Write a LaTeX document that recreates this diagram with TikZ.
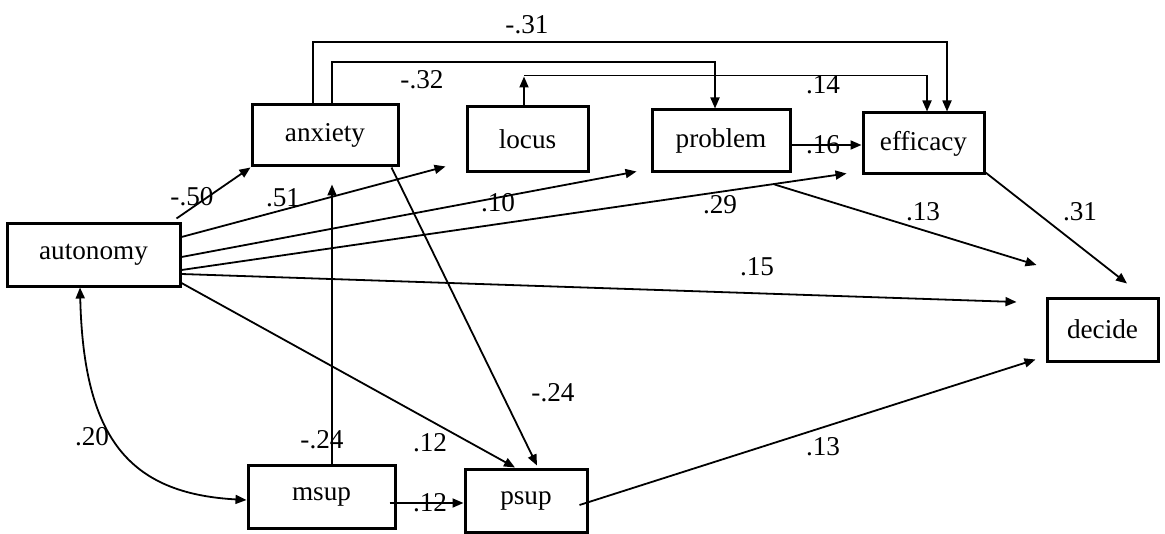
\documentclass[tikz,border=0pt]{standalone}
\usepackage{fontspec}
\setmainfont{Liberation Serif}
\usetikzlibrary{arrows.meta,calc}
\begin{document}
\begin{tikzpicture}[x=0.5pt,y=-0.5pt,
  every node/.style={font=\fontsize{13.6}{16}\selectfont},
  box/.style={draw,line width=1.5pt,inner sep=0pt,anchor=center},
  lab/.style={inner sep=0pt,anchor=center},
  conn/.style={line width=0.9pt,-{Triangle[length=5.5pt,width=4.5pt]}},
  plain/.style={line width=0.9pt},
  dconn/.style={line width=0.9pt,{Triangle[length=5.5pt,width=4.5pt]}-{Triangle[length=5.5pt,width=4.5pt]}}]
\useasboundingbox (0,0) rectangle (1165,534);
% boxes
\node[box,minimum width=86.5pt,minimum height=31.5pt] (autonomy) at (93.5,254.5) {autonomy};
\node[box,minimum width=73pt,minimum height=30.5pt] (anxiety) at (325,135.5) {anxiety};
\node[box,minimum width=60.5pt,minimum height=32.5pt] (locus) at (527.5,139.5) {locus};
\node[box,minimum width=69pt,minimum height=31pt] (problem) at (721,141) {problem};
\node[box,minimum width=60.5pt,minimum height=30.5pt] (efficacy) at (923.5,143.5) {efficacy};
\node[box,minimum width=55.5pt,minimum height=31.5pt] (decide) at (1102.5,329.5) {decide};
\node[box,minimum width=73.5pt,minimum height=31.5pt] (msup) at (321.5,496.5) {msup};
\node[box,minimum width=61pt,minimum height=31.5pt] (psup) at (526,500.5) {psup};
% free ends
\coordinate (eLocus) at ($(locus.south west)+(-20,-7)$);
\coordinate (eProblem) at ($(problem.south west)+(-14,-2)$);
\coordinate (eEfficacy) at ($(efficacy.south west)+(-15,-2)$);
\coordinate (eDecA) at ($(decide.west)+(-29,-27.5)$);
\coordinate (eDecB) at ($(decide.west)+(-9,-64.5)$);
\coordinate (eDecC) at ($(decide.south west)+(-10,-3)$);
\coordinate (eDecD) at ($(decide.north)+(24.5,-13)$);
\coordinate (eAnx) at ($(anxiety.south)+(7,17)$);
\coordinate (sBranch) at ($(problem.south east)+(-17,11)$);
\coordinate (lcTop) at ($(locus.north)+(-3.5,-29)$);
% connectors from autonomy
\draw[conn] ($(autonomy.north east)+(-5,-3)$) -- (anxiety.south west);
\draw[conn] ($(autonomy.east)+(0,-17.5)$) -- (eLocus);
\draw[conn] ($(autonomy.east)+(0,2.5)$) -- (eProblem);
\draw[conn] ($(autonomy.east)+(0,15.5)$) -- (eEfficacy);
\draw[conn] ($(autonomy.east)+(0,19.5)$) -- (eDecA);
\draw[conn] ($(autonomy.east)+(0,28.5)$) -- ($(psup.north)+(-11,0)$);
\draw[dconn] ($(autonomy.south)+(-13.5,0)$) .. controls ($(autonomy.south)+(-10,150)$) and ($(msup.west)+(-118,-3)$) .. ($(msup.west)+(0,3.5)$);
% others
\draw[conn] ($(msup.north)+(10.5,0)$) -- (eAnx);
\draw[conn] ($(msup.east)+(-7,6.5)$) -- ($(psup.west)+(0,2.5)$);
\draw[conn] ($(anxiety.south east)+(-8,0)$) -- ($(psup.north)+(11,-2)$);
\draw[conn] ($(psup.east)+(-9,4.5)$) -- (eDecC);
\draw[conn] (sBranch) -- (eDecB);
\draw[conn] ($(efficacy.south east)+(0,-3)$) -- (eDecD);
\draw[conn] ($(problem.east)+(0,4)$) -- ($(efficacy.west)+(0,1.5)$);
\draw[conn] ($(anxiety.north)+(-12,0)$) |- (947,42) -- ($(efficacy.north)+(23.5,0)$);
\draw[conn] ($(anxiety.north)+(7,0)$) |- (715,62) -- ($(problem.north)+(-6,0)$);
\draw[conn] ($(locus.north)+(-3.5,0)$) -- (lcTop);
\draw[conn] ($(lcTop)+(0,-1)$) -| ($(efficacy.north)+(3.5,0)$);
% labels
\node[lab] (l1) at (192,197) {-.50};
\node[lab] (l2) at (283,198) {.51};
\node[lab] (l3) at (498,203) {.10};
\node[lab] (l4) at (720,205) {.29};
\node[lab] (l5) at (757,267) {.15};
\node[lab] (l6) at (430,443) {.12};
\node[lab] (l7) at (92,437) {.20};
\node[lab] (l8) at (322,440) {-.24};
\node[lab] (l9) at (430,503) {.12};
\node[lab] (l10) at (553,393) {-.24};
\node[lab] (l11) at (823,447) {.13};
\node[lab] (l12) at (923,212) {.13};
\node[lab] (l13) at (1080,212) {.31};
\node[lab] (l14) at (823,145) {.16};
\node[lab] (l15) at (527,25) {-.31};
\node[lab] (l16) at (422,80) {-.32};
\node[lab] (l17) at (823,85) {.14};
\end{tikzpicture}
\end{document}
